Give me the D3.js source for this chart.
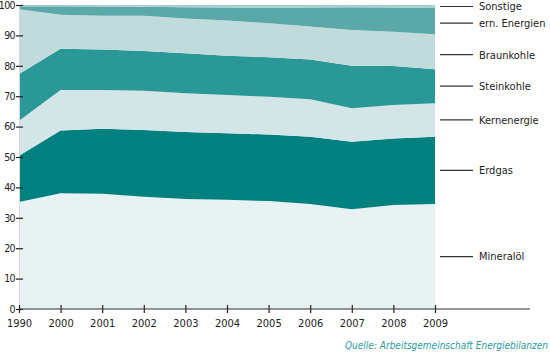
<!DOCTYPE html>
<html>
<head>
<meta charset="utf-8">
<script src="https://cdn.jsdelivr.net/npm/d3@7"></script>
<style>
  body { margin: 0; background: #fff; }
  svg text { font-family: "Liberation Sans Narrow", "DejaVu Sans Condensed", sans-serif; font-stretch: condensed; }
</style>
</head>
<body>
<div class="container"></div>
<script>
const years = ["1990", "2000", "2001", "2002", "2003", "2004", "2005", "2006", "2007", "2008", "2009"];

// Anteile am Primärenergieverbrauch in %
const mineraloel  = [35.2, 38.1, 37.9, 36.9, 36.2, 35.9, 35.5, 34.5, 32.8, 34.2, 34.5];
const erdgas      = [15.2, 20.6, 21.4, 22.0, 22.0, 21.9, 21.9, 22.2, 22.2, 21.9, 22.2];
const kernenergie = [11.5, 13.3, 12.7, 12.9, 12.8, 12.6, 12.4, 12.3, 11.0, 11.0, 11.0];
const steinkohle  = [15.4, 13.6, 13.4, 13.1, 13.1, 12.9, 13.0, 13.1, 14.0, 12.8, 11.2];
const braunkohle  = [21.3, 11.2, 11.1, 11.6, 11.5, 11.6, 11.2, 10.8, 11.8, 11.3, 11.5];
const ernEnergien = [1.0, 2.8, 3.0, 2.9, 3.7, 4.3, 5.1, 6.3, 7.5, 8.0, 8.6];
const sonstige    = [0.4, 0.4, 0.5, 0.6, 0.7, 0.8, 0.9, 0.8, 0.7, 0.8, 1.0];

const series = [
  { key: "Mineralöl", values: mineraloel, color: "#e8f2f2" },
  { key: "Erdgas", values: erdgas, color: "#00817f" },
  { key: "Kernenergie", values: kernenergie, color: "#d3e5e6" },
  { key: "Steinkohle", values: steinkohle, color: "#2b9898" },
  { key: "Braunkohle", values: braunkohle, color: "#c1dbdd" },
  { key: "ern. Energien", values: ernEnergien, color: "#5ba8a9" },
  { key: "Sonstige", values: sonstige, color: "#a8cfd0" }
];

const yTicks = [0, 10, 20, 30, 40, 50, 60, 70, 80, 90, 100];

const w = 550, h = 353;

const table = years.map((y, i) => {
  const row = { year: y };
  series.forEach(s => row[s.key] = s.values[i]);
  return row;
});

const stack = d3.stack().keys(series.map(s => s.key));
const stacked = stack(table);

const xScale = d3.scalePoint()
  .domain(years)
  .range([19, 435]);

const yScale = d3.scaleLinear()
  .domain([0, 100])
  .range([309, 5]);

const svg = d3.select(".container")
  .append("svg")
  .attr("width", w)
  .attr("height", h)
  .attr("viewBox", [0, 0, w, h]);

const area = d3.area()
  .x(d => xScale(d.data.year))
  .y0(d => yScale(d[0]))
  .y1(d => yScale(d[1]));

svg.selectAll("path.layer")
  .data(stacked)
  .join("path")
  .attr("class", "layer")
  .attr("fill", (d, i) => series[i].color)
  .attr("d", area);

// y axis
const yAxis = svg.append("g")
  .attr("transform", "translate(19,0)")
  .call(d3.axisLeft(yScale).tickValues(yTicks).tickSize(0).tickPadding(4));
yAxis.select(".domain").attr("stroke", "#d8d8d8").attr("stroke-width", 1);
yAxis.selectAll(".tick line").attr("x1", -3).attr("x2", 4).attr("stroke", "#222").attr("stroke-width", 1.2);
yAxis.selectAll(".tick text")
  .attr("font-size", 10.5)
  .attr("letter-spacing", "-0.6px")
  .attr("fill", "#222");

// x axis
const xAxis = svg.append("g")
  .attr("transform", "translate(0,309)")
  .call(d3.axisBottom(xScale).tickSize(0).tickPadding(10));
xAxis.select(".domain").remove();
xAxis.append("line")
  .attr("x1", 19).attr("x2", 530)
  .attr("stroke", "#333").attr("stroke-width", 1.2);
xAxis.selectAll(".tick line").attr("y1", -4).attr("y2", 4).attr("stroke", "#222").attr("stroke-width", 1.2);
xAxis.selectAll(".tick text").attr("font-size", 11).attr("fill", "#222");

// legend at band midpoints of last year
const last = years.length - 1;
const legend = svg.append("g");
stacked.forEach((layer, i) => {
  const d = layer[last];
  const yy = yScale((d[0] + d[1]) / 2) + (series[i].key === "Braunkohle" ? 3 : 0) + (series[i].key === "ern. Energien" ? 2 : 0);
  legend.append("line")
    .attr("x1", 440).attr("x2", 473)
    .attr("y1", yy).attr("y2", yy)
    .attr("stroke", "#333").attr("stroke-width", 1.2);
  legend.append("text")
    .attr("x", 479).attr("y", yy)
    .attr("dy", "0.35em")
    .attr("font-size", 11)
    .attr("fill", "#222")
    .text(series[i].key);
});

svg.append("text")
  .attr("x", 548).attr("y", 349)
  .attr("text-anchor", "end")
  .attr("font-size", 10)
  .attr("font-style", "italic")
  .attr("fill", "#2a9a9a")
  .text("Quelle: Arbeitsgemeinschaft Energiebilanzen");
</script>
</body>
</html>
